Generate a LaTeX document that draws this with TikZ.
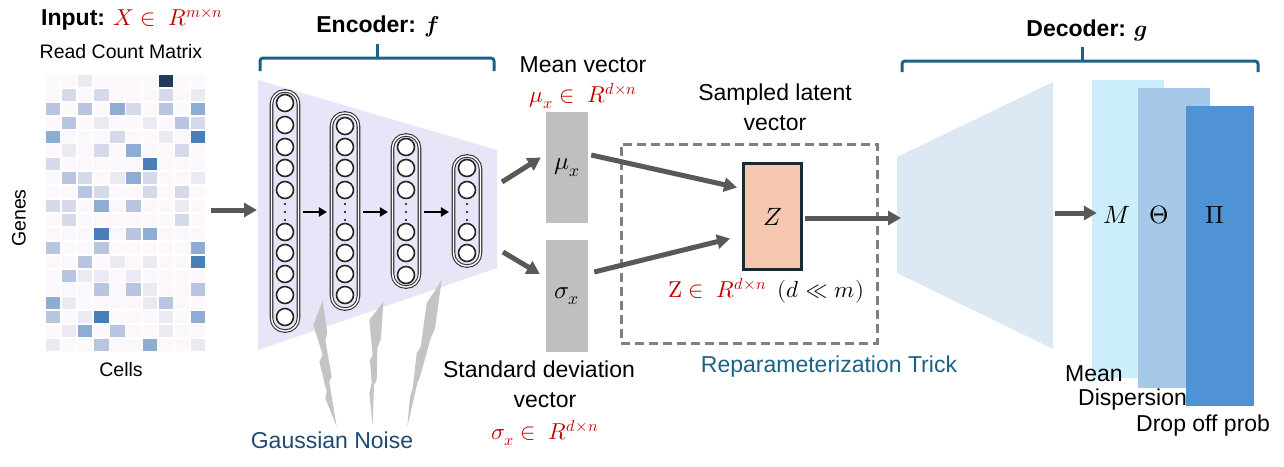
\documentclass[tikz,border=0pt]{standalone}
\usepackage{fontspec}
\setmainfont{Liberation Sans}
\usepackage{unicode-math}
\usetikzlibrary{arrows.meta,calc}
\definecolor{redtxt}{HTML}{C00000}
\definecolor{teal}{HTML}{1B6386}
\definecolor{navy}{HTML}{1F4A73}
\definecolor{arrgray}{HTML}{595959}
\definecolor{boxgray}{HTML}{BFBFBF}
\definecolor{encfill}{HTML}{E7E5F8}
\definecolor{decfill}{HTML}{DCE9F5}
\definecolor{zfill}{HTML}{F4C7AE}
\definecolor{zdraw}{HTML}{1A2A33}
\definecolor{mfill}{HTML}{CCEEFB}
\definecolor{thfill}{HTML}{A6C9EA}
\definecolor{pifill}{HTML}{4F93D6}
\definecolor{boltgray}{HTML}{C4C4C4}
\definecolor{heat0}{HTML}{FCF7FB}
\definecolor{heat1}{HTML}{EBEAF3}
\definecolor{heat2}{HTML}{D5D9EA}
\definecolor{heat3}{HTML}{B8C5E0}
\definecolor{heat4}{HTML}{8DADD4}
\definecolor{heat5}{HTML}{4A7EB9}
\definecolor{heat6}{HTML}{1E3A5C}
\tikzset{
  lbl/.style={font=\fontsize{23}{27}\selectfont, inner sep=0pt},
  mlbl/.style={font=\fontsize{25}{29}\selectfont, inner sep=0pt},
  slbl/.style={font=\fontsize{19.5}{23}\selectfont, inner sep=0pt},
  bigarrow/.style={draw=arrgray, line width=5pt, -{Triangle[length=13pt,width=14pt]}},
  blkarrow/.style={draw=black, line width=2.5pt, -{Triangle[length=8pt,width=9pt]}},
  brace/.style={draw=teal, line width=3pt, rounded corners=3pt},
  layerbox/.style={draw=black!80, double=white, double distance=1.4pt, line width=1.1pt,
     rounded corners=13pt, minimum width=27pt, inner sep=0pt},
  neuron/.style={circle, draw=black!85, line width=1.6pt, fill=white, minimum size=17pt, inner sep=0pt},
  vecbox/.style={fill=boxgray, minimum width=42pt, inner sep=0pt, font=\fontsize{25}{29}\selectfont},
  bolt/.style={fill=boltgray},
}
\begin{document}
\begin{tikzpicture}[x=1pt,y=-1pt]
\useasboundingbox (0,0) rectangle (1284,466);

% ---------- Input ----------
\node[lbl, anchor=west] (inputlbl) at (41,20) {\textbf{Input:} \textcolor{redtxt}{$X\in\ R^{m\times n}$}};
\node[slbl] (rcm) at (121,52) {Read Count Matrix};
\foreach \row [count=\r from 0] in {
 {0,0,1,0,0,0,0,6,0,0},{0,2,0,2,0,0,0,2,0,1},{3,0,3,0,4,2,0,3,0,4},{0,3,0,1,0,0,1,0,3,2},
 {4,0,0,0,2,0,0,1,0,5},{0,1,0,2,0,4,0,0,2,0},{2,0,0,0,0,0,5,0,0,0},{0,3,2,0,1,4,2,0,0,1},
 {0,0,3,2,0,0,2,0,2,0},{2,2,0,4,0,3,0,0,1,0},{0,2,0,0,0,0,0,0,2,0},{0,0,0,5,0,3,4,0,0,0},
 {3,0,0,3,0,0,0,0,0,4},{0,0,3,0,1,0,1,0,0,5},{0,3,1,1,0,1,0,0,0,0},{0,0,0,3,0,3,1,0,0,3},
 {4,1,0,0,0,0,1,3,0,0},{3,0,1,5,0,0,0,1,0,4},{0,1,4,0,3,0,0,1,0,0},{1,0,0,3,0,0,4,0,0,1}}{
  \foreach \v [count=\c from 0] in \row {
    \fill[heat\v] ({45+\c*16.1+0.9},{74+\r*13.9+0.9}) rectangle ++(14.3,12.1);
  }
}
\node[slbl, rotate=90] (genes) at (19,218) {Genes};
\node[slbl] (cells) at (121,370) {Cells};

% ---------- Encoder ----------
\fill[encfill] (258,80) -- (497,150) -- (497,268) -- (258,350) -- cycle;
\coordinate (encL) at (257,210);
\coordinate (heatR) at (211,210);
\draw[bigarrow] (heatR) -- (encL);

\node[layerbox, minimum height=240pt] (L1) at (285,211) {};
\node[layerbox, minimum height=196pt] (L2) at (345,211) {};
\node[layerbox, minimum height=152pt] (L3) at (406,211) {};
\node[layerbox, minimum height=110pt] (L4) at (467,211) {};
\foreach \y [count=\i] in {103,125,147,168,190,232,253,274,295,317} \node[neuron] (a\i) at (285,\y) {};
\foreach \y [count=\i] in {126,147,168,190,232,253,274,295} \node[neuron] (b\i) at (345,\y) {};
\foreach \y [count=\i] in {147,168,190,232,253,275} \node[neuron] (c\i) at (406,\y) {};
\foreach \y [count=\i] in {168,190,232,253} \node[neuron] (d\i) at (467,\y) {};
\foreach \x in {285,345,406,467} \foreach \y in {204,212,220} \fill[black] (\x,\y) circle (1.1pt);
\draw[blkarrow] ($(L1.east)+(4,1)$) -- ($(L2.west)+(-4,1)$);
\draw[blkarrow] ($(L2.east)+(4,1)$) -- ($(L3.west)+(-4,1)$);
\draw[blkarrow] ($(L3.east)+(4,1)$) -- ($(L4.west)+(-4,1)$);

% Gaussian noise bolts
\fill[bolt] (322.7,300.7) -- (327.3,333.3) -- (325.3,340) -- (331.7,376.7) -- (329.3,381.7) -- (336.7,426.7)
  -- (325.3,398.3) -- (326.7,391.7) -- (319.3,361.7) -- (322.7,355) -- (313.3,325) -- cycle;
\fill[bolt] (383.3,301.7) -- (381,338.3) -- (377.3,348.3) -- (376.7,380) -- (374,385) -- (372.7,425)
  -- (369.3,393.3) -- (371.7,383.3) -- (370,360) -- (372.7,355) -- (369.3,320) -- cycle;
\fill[bolt] (441.7,280) -- (435,328.3) -- (430.7,338.3) -- (420,376.7) -- (417.3,383.3) -- (407.3,426.7)
  -- (410,396.7) -- (412.7,388.3) -- (416.7,353.3) -- (420.7,346.7) -- (426.7,303.3) -- cycle;
\node[lbl, text=navy] (noise) at (332,440) {Gaussian Noise};

% Encoder brace
\draw[brace] (260,71) -- (260,58) -- (494,58) -- (494,71);
\draw[brace] (377,58) -- (377,44);
\node[lbl] (enclbl) at (378,26) {\textbf{Encoder:} $\symbfit{f}$};

% ---------- Mean / sigma ----------
\node[lbl] (meanlbl) at (583,65) {Mean vector};
\node[lbl, text=redtxt] (meanmath) at (583,96) {$\mu_x\in\ R^{d\times n}$};
\node[vecbox, minimum height=111pt] (mu) at (567,167.5) {$\mu_x$};
\node[vecbox, minimum height=112pt] (sigma) at (567,296) {$\sigma_x$};
\coordinate (encR1) at (502,182);
\coordinate (encR2) at (503,252);
\draw[bigarrow] (encR1) -- ($(mu.west)+(-5,-10)$);
\draw[bigarrow] (encR2) -- ($(sigma.west)+(-6,-22)$);
\node[lbl] (sdlbl1) at (539,369) {Standard deviation};
\node[lbl] (sdlbl2) at (545,400) {vector};
\node[lbl, text=redtxt] (sdmath) at (545,433) {$\sigma_x\in\ R^{d\times n}$};

% ---------- Reparameterization ----------
\node[draw=black!50, line width=3pt, dash pattern=on 9pt off 5pt, minimum width=256pt, minimum height=199pt, inner sep=0pt] (reparam) at (749,243.5) {};
\node[lbl] (samp1) at (775,95) {Sampled latent};
\node[lbl] (samp2) at (775,123) {vector};
\node[draw=zdraw, fill=zfill, line width=3pt, minimum width=58pt, minimum height=106pt, inner sep=0pt,
      font=\fontsize{25}{29}\selectfont] (Z) at (772.5,216.5) {$Z$};
\draw[bigarrow] ($(mu.east)+(3,-12.5)$) -- ($(Z.west)+(-5,-29)$);
\draw[bigarrow] ($(sigma.east)+(6,-24)$) -- ($(Z.west)+(-12,22)$);
\node[lbl, anchor=west] (zmath) at (668,291) {\textcolor{redtxt}{$\symup{Z}\in\ R^{d\times n}$}\enspace$(d\ll m)$};
\node[lbl, text=teal] (trick) at (829,367) {Reparameterization Trick};

% ---------- Decoder ----------
\fill[decfill] (897,157) -- (1053,82) -- (1053,349) -- (897,273) -- cycle;
\coordinate (decL) at (901,218);
\coordinate (decR) at (1055,213);
\draw[bigarrow] ($(Z.east)+(2,1.5)$) -- (decL);
\node[fill=mfill, minimum width=72pt, minimum height=298pt, inner sep=0pt] (Mrect) at (1128,229) {};
\node[fill=thfill, minimum width=72pt, minimum height=300pt, inner sep=0pt] (Trect) at (1174,238) {};
\node[fill=pifill, minimum width=68pt, minimum height=300pt, inner sep=0pt] (Prect) at (1220,256) {};
\draw[bigarrow] (decR) -- ($(Mrect.west)+(5,-16)$);
\node[mlbl] (Mlbl) at (1117,215) {$M$};
\node[mlbl] (Tlbl) at (1159,215) {$\Theta$};
\node[mlbl] (Plbl) at (1215,215) {$\Pi$};
\node[lbl, anchor=west] (meanl) at (1065,374) {Mean};
\node[lbl, anchor=west] (displ) at (1078,400) {Dispersion};
\node[lbl, anchor=west] (dropl) at (1136,426) {Drop off prob};

\draw[brace] (902,72) -- (902,61) -- (1258,61) -- (1258,72);
\draw[brace] (1082,61) -- (1082,47);
\node[lbl] (declbl) at (1087,30) {\textbf{Decoder:} $\symbfit{g}$};
\end{tikzpicture}
\end{document}
